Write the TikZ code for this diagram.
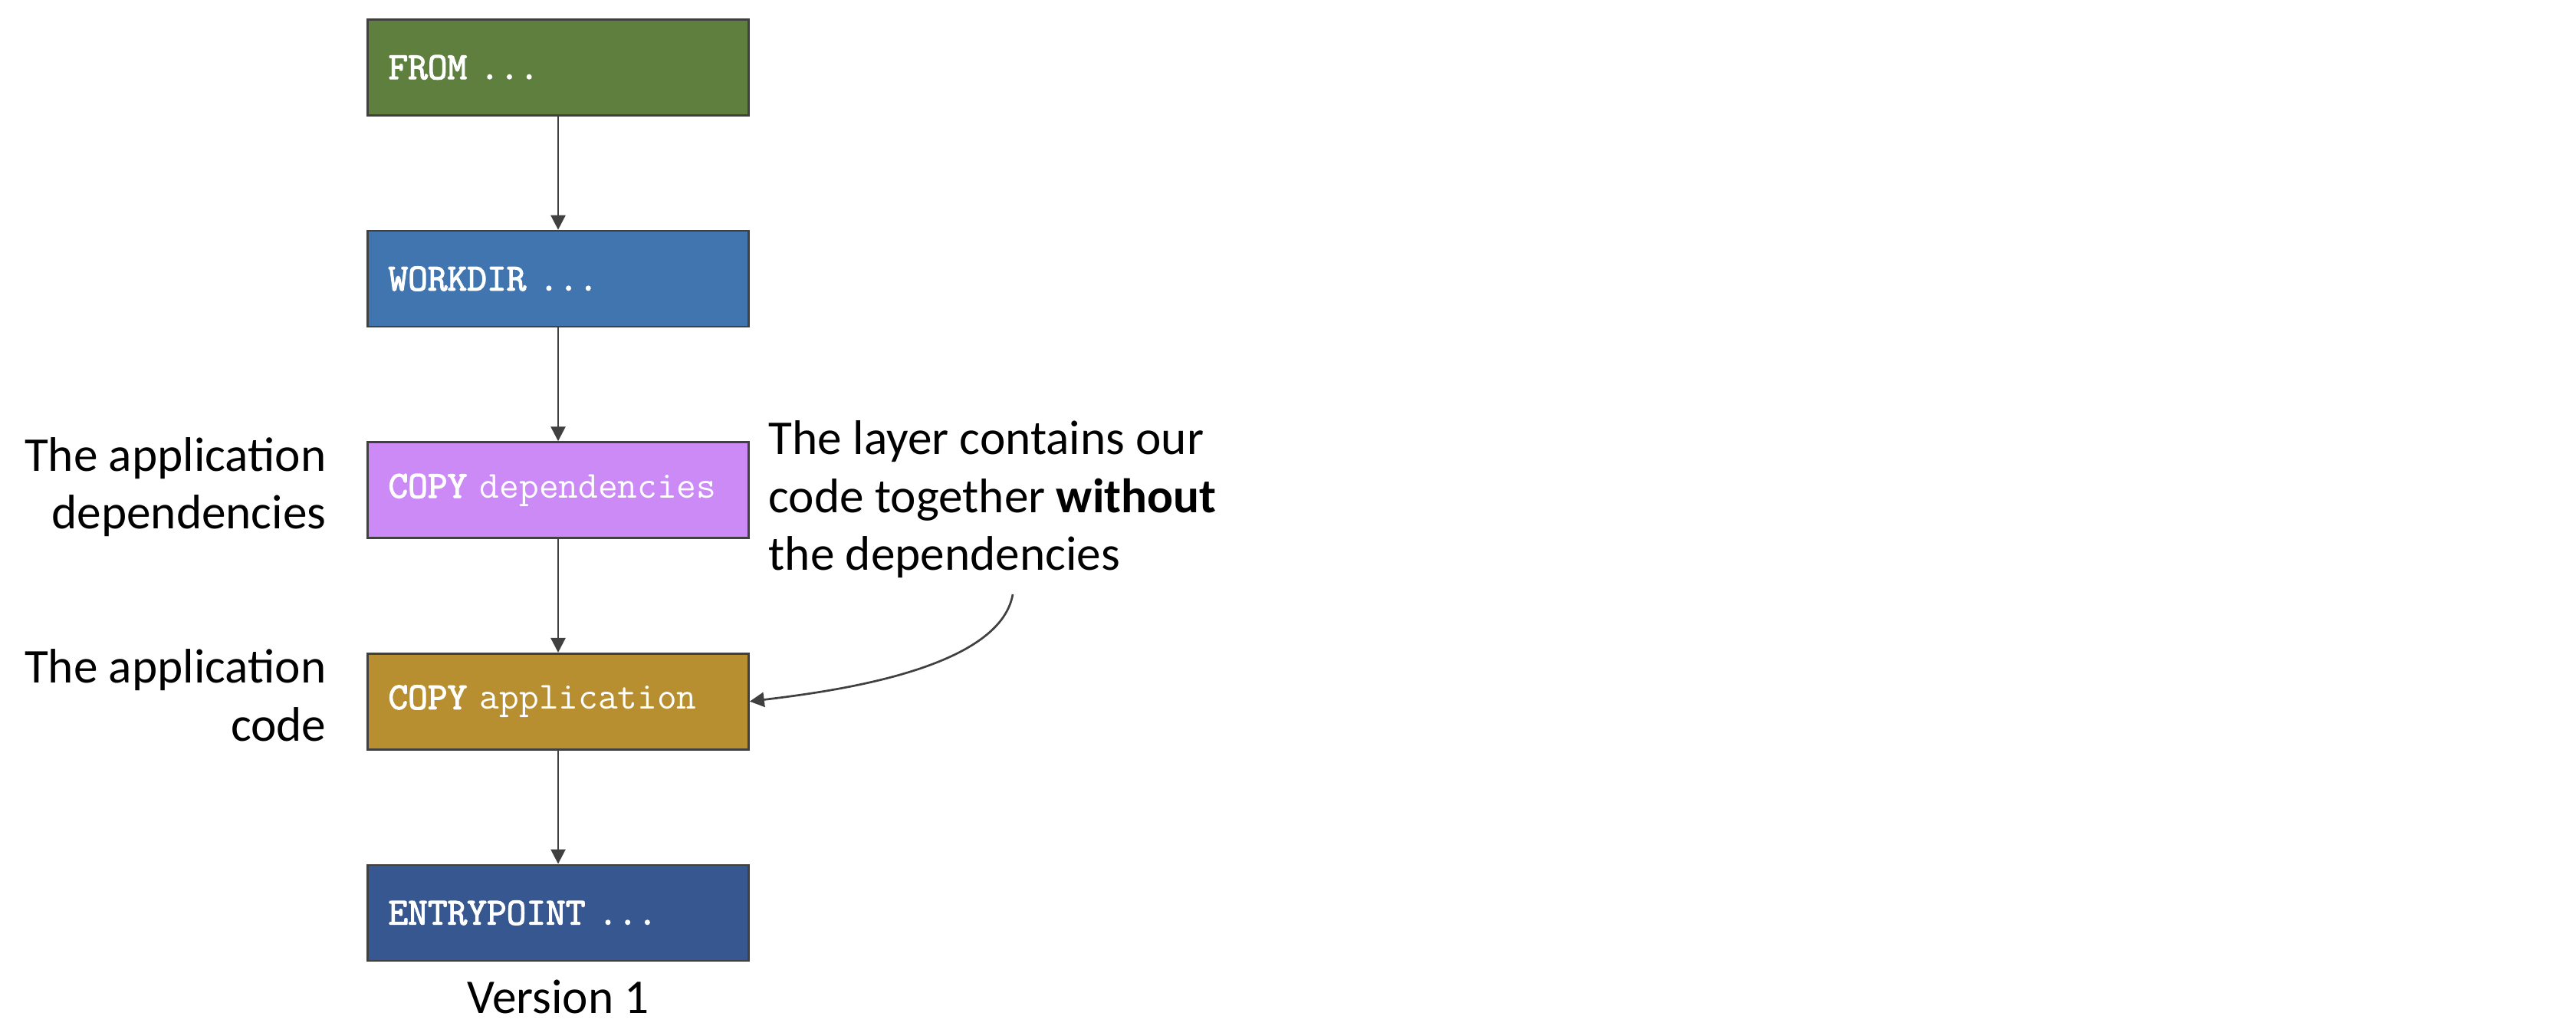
\documentclass[tikz,border=0pt]{standalone}
\usepackage{fontspec}
\setmainfont{Carlito}
\newfontfamily\layerfont{Latin Modern Mono}
\newfontfamily\layerbold{Latin Modern Mono}[FakeBold=2.5]
\newcommand{\keyword}[1]{{\layerbold #1}}
\usetikzlibrary{arrows.meta, positioning, calc}

\definecolor{linegray}{HTML}{404040}
\definecolor{fromgreen}{HTML}{5E7F3E}
\definecolor{workblue}{HTML}{4175B0}
\definecolor{depspurple}{HTML}{CC8AF7}
\definecolor{appgold}{HTML}{B78F31}
\definecolor{entryblue}{HTML}{375790}

\begin{document}
\begin{tikzpicture}[
        layer/.style={rectangle, draw=linegray, line width=0.75pt, minimum height=1.25cm, text width=4.43cm, inner xsep=0.27cm, inner ysep=0pt, align=left, text=white, font=\layerfont\fontsize{14.2}{16}\selectfont},
        sidetext/.style={inner sep=0pt, font=\fontsize{18}{21.5}\selectfont},
        line/.style={draw=linegray, line width=0.77pt, -{Triangle[width=0.19cm, length=0.19cm]}}
    ]
    \useasboundingbox (0,0) rectangle (33.6,-13.5);

    % Layers
    \node[layer, fill=fromgreen] (from) at (7.28,-0.878) {\keyword{FROM ...}};
    \node[layer, fill=workblue, below=1.48cm of from] (workdir) {\keyword{WORKDIR ...}};
    \node[layer, fill=depspurple, below=1.48cm of workdir] (deps) {\keyword{COPY} dependencies};
    \node[layer, fill=appgold, below=1.48cm of deps] (app) {\keyword{COPY} application};
    \node[layer, fill=entryblue, below=1.48cm of app] (entry) {\keyword{ENTRYPOINT ...}};

    % Notes
    \node[sidetext, align=right, left=0.52cm of deps, yshift=0.04cm] (depsnote) {The application\\dependencies};
    \node[sidetext, align=right, left=0.52cm of app, yshift=0.08cm] (appnote) {The application\\code};
    \node[sidetext, align=left, anchor=north west] (layernote) at (10.02,-5.48) {The layer contains our\\code together \textbf{without}\\the dependencies};
    \node[sidetext, below=0.23cm of entry] (version) {Version 1};
    \coordinate (bendstart) at (13.21,-7.75);

    % Connections
    \foreach \a/\b in {from/workdir, workdir/deps, deps/app, app/entry}
        \draw[line] (\a) -- (\b);
    \draw[line] (bendstart) to[out=-100, in=7, looseness=0.7] (app.east);

\end{tikzpicture}
\end{document}
